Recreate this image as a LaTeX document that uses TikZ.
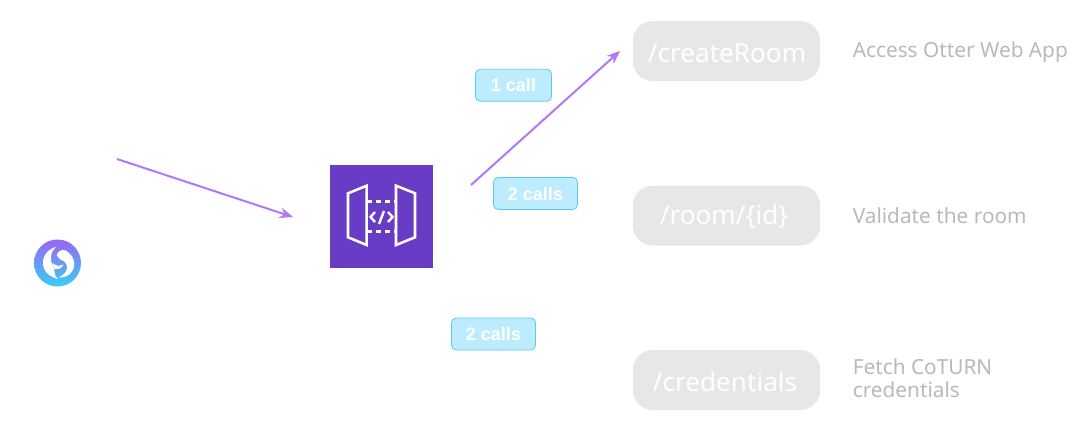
\documentclass[tikz,border=0pt]{standalone}
\usepackage{fontspec}
\setmainfont{Noto Sans}
\newfontfamily\pillfont{Liberation Sans}[BoldFont={Liberation Sans Bold}]
\usetikzlibrary{arrows.meta}
\definecolor{arrowc}{HTML}{B376FB}
\definecolor{pillf}{HTML}{BDECFF}
\definecolor{pilld}{HTML}{5CC8F2}
\definecolor{routef}{HTML}{E6E7E7}
\definecolor{sidec}{HTML}{B9B9B9}
\definecolor{apic}{HTML}{693CC5}
\definecolor{logoa}{HTML}{9A66F5}
\definecolor{logob}{HTML}{4C8EF7}
\definecolor{logoc}{HTML}{35D0F5}
\tikzset{
  x=0.75pt,y=-0.75pt,
  flow/.style={draw=arrowc,line width=1.5pt,-{Stealth[length=10pt,width=8pt]}},
  pill/.style={draw=pilld,fill=pillf,line width=0.6pt,rounded corners=3.5pt,minimum height=24pt,inner sep=0pt,text=white,text depth=0pt,font=\pillfont\fontsize{13.5}{13.5}\selectfont\bfseries},
  route/.style={fill=routef,rounded corners=15pt,minimum width=140.5pt,minimum height=45pt,inner sep=0pt},
  routetxt/.style={text=white,inner sep=0pt,font=\fontsize{19.6}{19.6}\selectfont},
  side/.style={anchor=west,align=left,inner sep=0pt,text=sidec,font=\fontsize{15.6}{17.5}\selectfont},
  door/.style={draw=white,line width=1.9pt,line join=miter},
  dash line/.style={draw=white,line width=1.9pt,dash pattern=on 4pt off 2.8pt},
  code/.style={draw=white,line width=1.8pt}
}
\begin{document}
\begin{tikzpicture}
\useasboundingbox (0,0) rectangle (1078,433);
% logo
\shade[shading=axis,shading angle=200,top color=logoa,middle color=logob,bottom color=logoc] (57.5,263) circle[radius=23.5];
\begin{scope}[shift={(20,225)},x=0.25pt,y=-0.25pt]
\fill[white] (108,66) .. controls (76,74) and (62,105) .. (72,130) .. controls (78,148) and (95,156) .. (114,162) .. controls (100,150) and (106,136) .. (100,124) .. controls (88,108) and (90,82) .. (108,66) -- cycle;
\fill[white] (110,90) .. controls (116,72) and (136,70) .. (147,84) .. controls (162,96) and (168,116) .. (158,136) .. controls (150,152) and (132,160) .. (116,157) .. controls (132,150) and (146,136) .. (140,120) .. controls (136,110) and (128,106) .. (122,104) .. controls (118,100) and (112,96) .. (110,90) -- cycle;
\fill[white] (98,114) .. controls (106,122) and (116,126) .. (130,118) .. controls (126,132) and (108,136) .. (102,130) -- cycle;
\end{scope}
% api gateway
\node[fill=apic,draw=none,minimum width=77pt,minimum height=77.25pt,inner sep=0pt] (api) at (381.5,216.8) {};
\draw[door] (348,193.3) -- (366.7,185.7) -- (366.7,245) -- (348,237.3) -- cycle;
\draw[door] (396,185.7) -- (415,193.3) -- (415,237.3) -- (396,245) -- cycle;
\draw[dash line] (367,201.7) -- (396,201.7);
\draw[dash line] (367,231.7) -- (396,231.7);
\draw[code] (375,212) -- (370.5,217) -- (375,222);
\draw[code] (388,212) -- (392.5,217) -- (388,222);
\draw[code] (384,211) -- (379,224);
% arrows
\coordinate (a1) at (117,159);
\coordinate (a2) at (293,217);
\coordinate (b1) at (471,185);
\coordinate (b2) at (620,51);
\draw[flow] (a1) -- (a2);
\draw[flow] (b1) -- (b2);
% pills
\node[pill,minimum width=57pt] (p1) at (513.5,85.3) {1 call};
\node[pill,minimum width=63pt] (p2) at (535.5,193.5) {2 calls};
\node[pill,minimum width=63pt] (p3) at (493.5,334) {2 calls};
% routes
\node[route] (r1) at (726.5,51) {};
\node[route] (r2) at (726.5,215.5) {};
\node[route] (r3) at (726.5,380) {};
\node[routetxt] (t1) at (727,53) {/createRoom};
\node[routetxt] (t2) at (724,217) {/room/\{id\}};
\node[routetxt] (t3) at (725,382) {/credentials};
% side text
\node[side] (s1) at (852.5,52.5) {Access Otter Web App};
\node[side] (s2) at (852.5,215.5) {Validate the room};
\node[side] (s3) at (852.5,378) {Fetch CoTURN\\credentials};
\end{tikzpicture}
\end{document}
